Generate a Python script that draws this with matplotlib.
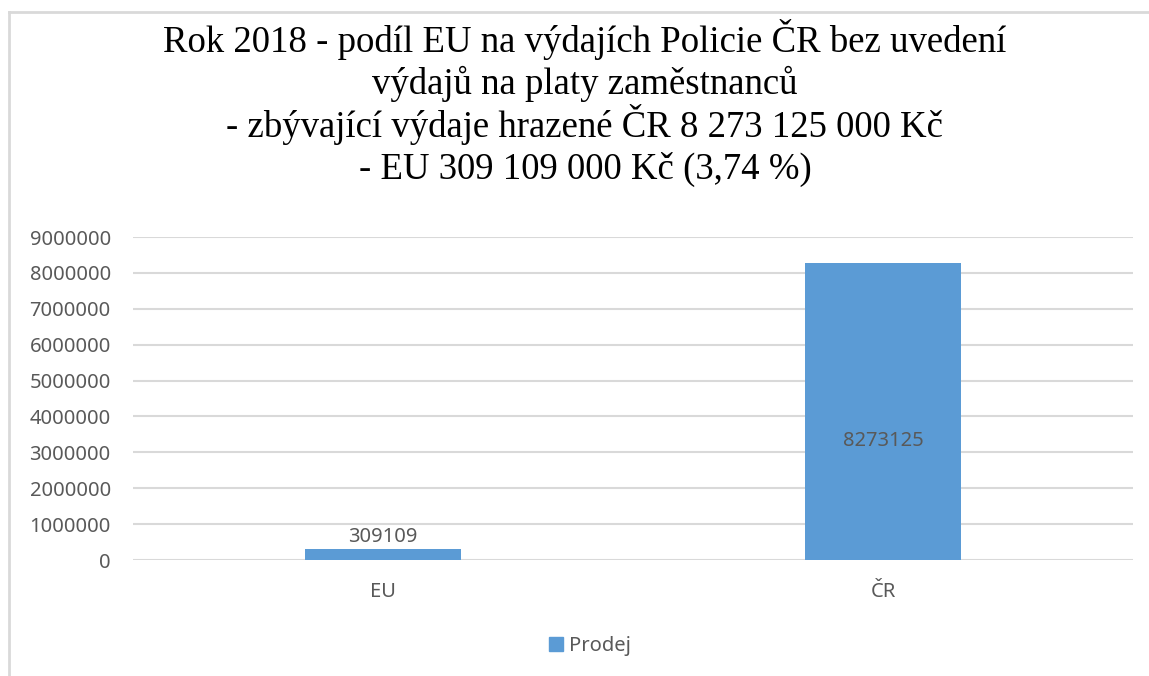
import matplotlib
matplotlib.use("Agg")
import matplotlib.pyplot as plt
from matplotlib.lines import Line2D
from matplotlib.patches import Patch

categories = ["EU", "ČR"]
values = [309109, 8273125]
series_name = "Prodej"
yticks = [0, 1000000, 2000000, 3000000, 4000000, 5000000, 6000000, 7000000, 8000000, 9000000]
title_lines = [
    "Rok 2018 - podíl EU na výdajích Policie ČR bez uvedení",
    "výdajů na platy zaměstnanců",
    "- zbývající výdaje hrazené ČR 8 273 125 000 Kč",
    "- EU 309 109 000 Kč (3,74 %)",
]

BAR = "#5B9BD5"
GRID = "#D9D9D9"
TXT = "#595959"
SANS = ["Noto Sans", "DejaVu Sans"]

W, H = 1149, 676
fig = plt.figure(figsize=(W / 100, H / 100), dpi=100)

# chart frame (top and left visible)
fig.add_artist(Line2D([8.5 / W, 8.5 / W], [0, 1 - 11.5 / H], transform=fig.transFigure, color=GRID, lw=2))
fig.add_artist(Line2D([8.5 / W, 1], [1 - 11.5 / H, 1 - 11.5 / H], transform=fig.transFigure, color=GRID, lw=2))

ax = fig.add_axes([133 / W, 1 - 560 / H, 1000 / W, 323 / H])
x = list(range(len(categories)))
ax.bar(x, values, width=0.313, color=BAR, zorder=3)
ax.set_xlim(-0.5, len(categories) - 0.5)
ax.set_ylim(0, 9000000)
ax.set_yticks(yticks)
ax.set_yticklabels([str(v) for v in yticks], fontfamily=SANS, fontsize=14.5, color=TXT)
ax.set_xticks(x)
ax.set_xticklabels(categories, fontfamily=SANS, fontsize=14.5, color=TXT)
ax.tick_params(axis="y", length=0, pad=16)
ax.tick_params(axis="x", length=0, pad=16)
ax.grid(axis="y", color=GRID, lw=1.5, zorder=0)
for s in ax.spines.values():
    s.set_visible(False)

# data labels
ax.text(x[0], values[0] + 60000, str(values[0]), ha="center", va="bottom",
        fontfamily=SANS, fontsize=14.5, color=TXT)
ax.text(x[1], values[1] * 0.4, str(values[1]), ha="center", va="center",
        fontfamily=SANS, fontsize=14.5, color=TXT)

# title, one line at a time (baselines)
title_y = [52, 94, 137, 179]
for line, yy in zip(title_lines, title_y):
    fig.text(585 / W, 1 - yy / H, line, ha="center", va="baseline",
             fontfamily=["Liberation Serif", "DejaVu Serif"], fontsize=26.5, color="black")

# legend
fig.legend(handles=[Patch(color=BAR, label=series_name)], loc="center",
           bbox_to_anchor=(590 / W, 1 - 646 / H), frameon=False,
           prop={"family": "Noto Sans", "size": 14.5}, labelcolor=TXT,
           handlelength=0.7, handleheight=0.7, handletextpad=0.3)

fig.savefig("out.png", dpi=100)
